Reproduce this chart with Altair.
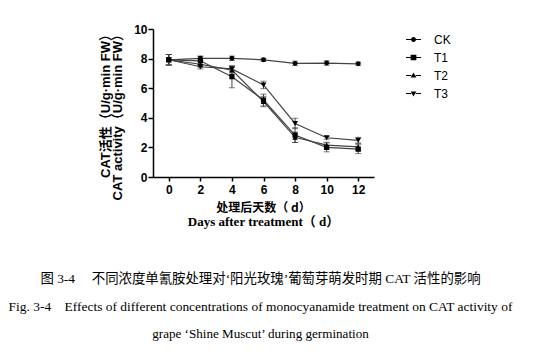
import altair as alt
import pandas as pd

days = [0, 2, 4, 6, 8, 10, 12]
series_names = ["CK", "T1", "T2", "T3"]
ck = [7.92, 8.02, 8.02, 7.92, 7.68, 7.7, 7.65]
ck_err = [0.35, 0.15, 0.15, 0.1, 0.15, 0.15, 0.1]
t1 = [7.92, 7.85, 6.78, 5.2, 2.83, 2.0, 1.88]
t1_err = [0.35, 0.3, 0.75, 0.4, 0.5, 0.3, 0.3]
t2 = [7.92, 7.62, 7.22, 5.1, 2.68, 2.15, 2.04]
t2_err = [0.35, 0.2, 0.2, 0.35, 0.35, 0.2, 0.25]
t3 = [7.92, 7.45, 7.3, 6.22, 3.62, 2.65, 2.48]
t3_err = [0.35, 0.15, 0.15, 0.25, 0.35, 0.1, 0.2]

x_ticks = [0, 2, 4, 6, 8, 10, 12]
y_ticks = [0, 2, 4, 6, 8, 10]

y_title = ["CAT活性（U/g·min FW）", "CAT activity（U/g·min FW）"]
x_title_cn = "处理后天数（ d）"
x_title_en = "Days after treatment（ d）"
caption = [
    "图 3-4\u00a0\u00a0\u00a0\u00a0\u00a0不同浓度单氰胺处理对‘阳光玫瑰’葡萄芽萌发时期 CAT 活性的影响",
    "Fig. 3-4\u00a0\u00a0\u00a0\u00a0Effects of different concentrations of monocyanamide treatment on CAT activity of",
    "grape ‘Shine Muscut’ during germination",
]

rows = []
for name, vals, errs in zip(series_names, [ck, t1, t2, t3], [ck_err, t1_err, t2_err, t3_err]):
    for d, v, e in zip(days, vals, errs):
        rows.append({"series": name, "day": d, "value": v, "lo": v - e, "hi": v + e})
df = pd.DataFrame(rows)

W, H = 221, 148

x_axis = alt.Axis(values=x_ticks, title=None, grid=False, tickSize=4,
                  labelPadding=3, labelFontSize=12, labelFontWeight="bold",
                  labelFont="Liberation Sans", domainColor="black", labelOverlap=False,
                  labelFlush=False, tickColor="black", labelColor="black",
                  domainWidth=1.5, tickWidth=1.5)
y_axis = alt.Axis(values=y_ticks, title=None, grid=False, tickSize=5,
                  labelPadding=1, labelFontSize=12, labelFontWeight="bold",
                  labelFont="Liberation Sans", domainColor="black", labelOverlap=False,
                  labelFlush=False, tickColor="black", labelColor="black",
                  domainWidth=1.5, tickWidth=1.5)
x_scale = alt.Scale(domain=[-1, 13], nice=False, zero=False)
y_scale = alt.Scale(domain=[0, 10], nice=False)

base = alt.Chart(df)

lines = base.mark_line(color="#444", strokeWidth=1.2).encode(
    x=alt.X("day:Q", scale=x_scale, axis=x_axis),
    y=alt.Y("value:Q", scale=y_scale, axis=y_axis),
    detail="series:N")

err = base.mark_errorbar(ticks=alt.MarkConfig(size=6, color="#444"), color="#444", thickness=1).encode(
    x=alt.X("day:Q", scale=x_scale, axis=x_axis),
    y=alt.Y("lo:Q", scale=y_scale, axis=y_axis), y2="hi:Q", detail="series:N")

shape_scale = alt.Scale(domain=series_names,
                        range=["circle", "square", "triangle-up", "triangle-down"])
size_scale = alt.Scale(domain=series_names, range=[24, 34, 22, 22])
pts = base.mark_point(filled=True, color="black", opacity=1).encode(
    x=alt.X("day:Q", scale=x_scale, axis=x_axis),
    y=alt.Y("value:Q", scale=y_scale, axis=y_axis),
    shape=alt.Shape("series:N", scale=shape_scale, legend=None),
    size=alt.Size("series:N", scale=size_scale, legend=None),
)

seg = "M-1,-0.065H-0.3V0.065H-1Z M0.3,-0.065H1V0.065H0.3Z "
leg_paths = [
    seg + "M-0.33,0A0.33,0.33 0 1,1 0.33,0A0.33,0.33 0 1,1 -0.33,0Z",
    seg + "M-0.38,-0.38H0.38V0.38H-0.38Z",
    seg + "M0,-0.4L0.38,0.28L-0.38,0.28Z",
    seg + "M0,0.4L-0.38,-0.28L0.38,-0.28Z",
]
leg_df = pd.DataFrame({"leg": series_names})
legend_layer = alt.Chart(leg_df).transform_filter("false").mark_point(
    filled=True, color="black", size=225, opacity=1
).encode(
    x=alt.value(0), y=alt.value(0),
    shape=alt.Shape("leg:N", scale=alt.Scale(domain=series_names, range=leg_paths),
                    legend=alt.Legend(title=None, orient="none", legendX=252, legendY=2,
                                      symbolSize=225, symbolFillColor="black",
                                      symbolOpacity=1,
                                      labelFontSize=12, labelFont="Liberation Sans",
                                      labelColor="black", rowPadding=3, labelOffset=12,
                                      padding=0)),
)

ytitle_df = pd.DataFrame({"t": y_title, "xx": [-47, -35]})
ytitle = alt.Chart(ytitle_df).mark_text(angle=270, align="right", baseline="middle",
                                         fontSize=13, fontWeight="bold",
                                         font="Liberation Sans, Noto Sans CJK SC", color="black").encode(
    text="t:N", x=alt.X("xx:Q", scale=None), y=alt.value(-1))

xt1 = alt.Chart(pd.DataFrame({"t": [x_title_cn]})).mark_text(
    align="center", baseline="middle", fontSize=12, fontWeight="bold",
    font="Noto Sans CJK SC", color="black").encode(text="t:N", x=alt.value(W / 2), y=alt.value(178.5))
xt2 = alt.Chart(pd.DataFrame({"t": [x_title_en]})).mark_text(
    align="center", baseline="middle", fontSize=13, fontWeight="bold",
    font="Liberation Serif, Noto Sans CJK SC", color="black").encode(text="t:N", x=alt.value(W / 2), y=alt.value(193))

cap_df = pd.DataFrame({"t": caption, "yy": [250, 278, 305], "fs": [13.4, 13.45, 13.1]})
cap = alt.Chart(cap_df).mark_text(align="center", baseline="middle",
                                  font="Liberation Serif, Noto Sans CJK SC", color="black").encode(
    text="t:N", x=alt.value(W / 2 - 3), y=alt.Y("yy:Q", scale=None),
    size=alt.Size("fs:Q", scale=None))

chart = alt.layer(lines, err, pts, legend_layer, ytitle, xt1, xt2, cap).resolve_scale(
    shape="independent", size="independent"
).properties(
    width=W, height=H,
    autosize=alt.AutoSizeParams(type="none"),
    padding={"left": 145, "top": 21, "right": 168, "bottom": 172},
).configure_view(stroke=None)

chart.save("out.html", embed_options={"renderer": "svg", "actions": False})
